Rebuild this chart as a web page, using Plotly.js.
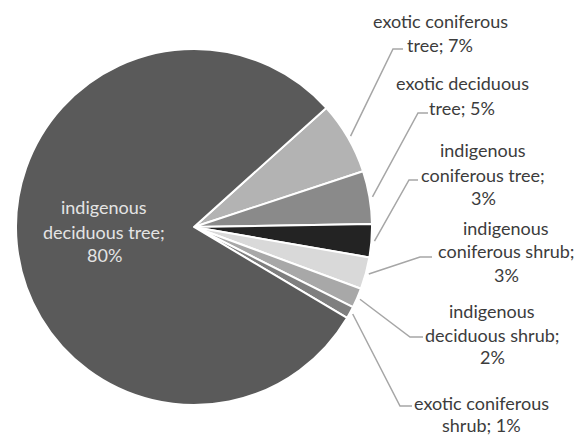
<!DOCTYPE html>
<html>
<head>
<meta charset="utf-8">
<script src="https://cdn.plot.ly/plotly-3.0.1.min.js"></script>
<style>html,body{margin:0;padding:0;background:#fff;}#chart{width:581px;height:437px;}</style>
</head>
<body>
<div id="chart"></div>
<script>
// ---- data ----
const labels = ["exotic coniferous tree", "exotic deciduous tree", "indigenous coniferous tree",
                "indigenous coniferous shrub", "indigenous deciduous shrub", "exotic coniferous shrub",
                "indigenous deciduous tree"];
const values = [6.6, 4.8, 3.0, 2.9, 1.8, 1.1, 79.8];
const colors = ["#b3b3b3", "#8a8a8a", "#232323", "#d9d9d9", "#a8a8a8", "#7f7f7f", "#5a5a5a"];

// ---- layout constants (pixels) ----
const W = 581, H = 437;
const CX = 194, CY = 227, R = 178;
const ROT = 48;
const wrap = [[2,2],[2,2],[1,2,1],[1,2,1],[1,2,1],[2,2],[1,2,1]];
const textX = [440, 462, 483, 506, 492, 481, 104];
const textY = [[21,45],[83,108],[150,175,198],[228,251,275],[311,335,357],[403,425],[207,232,255]];
const elbow = [[393,49],[418,113],[409,180],[420,257],[410,337],[400,406],null];
const lineEnd = [[403,49],[428,113],[418,180],[432,257],[423,337],[412,406],null];

const px = x => x / W;
const py = y => 1 - y / H;

const total = values.reduce((a, b) => a + b, 0);
const pcts = values.map(v => Math.round(v / total * 100) + "%");

const annotations = [];
const shapes = [];
let cum = 0;
values.forEach((v, i) => {
  const words = (labels[i] + "; " + pcts[i]).split(" ");
  let k = 0;
  wrap[i].forEach((n, li) => {
    const line = words.slice(k, k + n).join(" ");
    k += n;
    annotations.push({
      text: line, xref: "paper", yref: "paper", x: px(textX[i]), y: py(textY[i][li]),
      xanchor: "center", yanchor: "middle", showarrow: false, borderpad: 0,
      font: {family: "Lato, 'Open Sans', sans-serif", size: 18, color: i === 6 ? "#e4e4e4" : "#3c3c3c"}
    });
  });
  const mid = (ROT + (cum + v / 2) / total * 360) * Math.PI / 180;
  cum += v;
  if (elbow[i]) {
    const sx = CX + (R + 3) * Math.sin(mid), sy = CY - (R + 3) * Math.cos(mid);
    shapes.push({
      type: "path", xref: "paper", yref: "paper",
      path: `M ${px(sx)} ${py(sy)} L ${px(elbow[i][0])} ${py(elbow[i][1])} L ${px(lineEnd[i][0])} ${py(lineEnd[i][1])}`,
      line: {color: "#a6a6a6", width: 1.5}
    });
  }
});

const trace = {
  type: "pie", labels: labels, values: values, sort: false, direction: "clockwise",
  rotation: ROT, textinfo: "none", hoverinfo: "skip",
  marker: {colors: colors, line: {color: "#ffffff", width: 2}},
  domain: {x: [px(CX - R), px(CX + R)], y: [py(CY + R), py(CY - R)]}
};

Plotly.newPlot("chart", [trace], {
  width: W, height: H, margin: {l: 0, r: 0, t: 0, b: 0},
  paper_bgcolor: "#ffffff", showlegend: false, hovermode: false,
  annotations: annotations, shapes: shapes
}, {displayModeBar: false, staticPlot: true});
</script>
</body>
</html>
